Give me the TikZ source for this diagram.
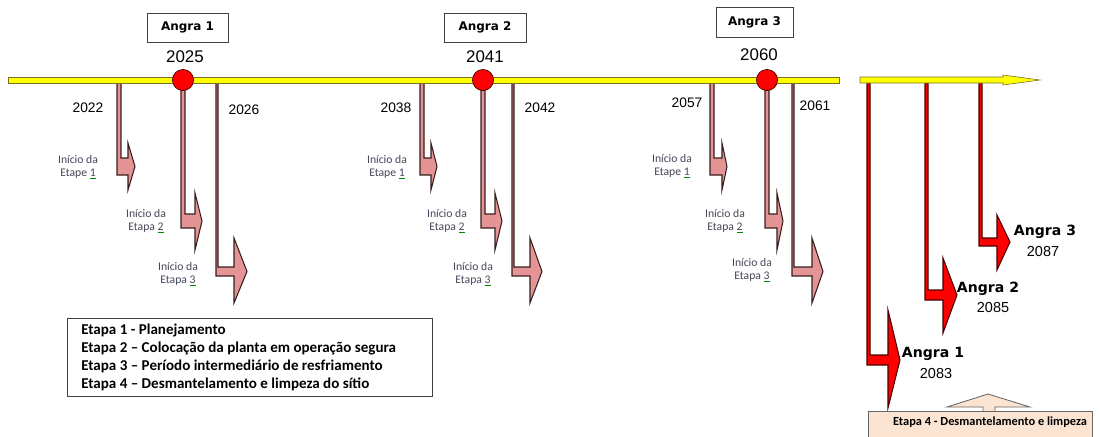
\documentclass[tikz,border=0pt]{standalone}
\usepackage{fontspec}
\setmainfont{Liberation Sans}
\newfontfamily\carl{Carlito}
\newfontfamily\dvs{DejaVu Sans}
\definecolor{pinkA}{RGB}{228,148,148}
\definecolor{brownA}{RGB}{55,30,30}
\definecolor{darkred}{RGB}{70,0,0}
\definecolor{barY}{RGB}{255,255,0}
\definecolor{barO}{RGB}{120,110,40}
\definecolor{peach}{RGB}{251,228,210}
\definecolor{lbl}{RGB}{70,70,90}
\newcommand\sq[1]{{\color{green!55!black}\underline{\color{lbl}#1}}}
\newcommand\bentarr[9]{%
  \pgfmathsetmacro\xr{#2+#3}\pgfmathsetmacro\ym{(#4+#5)/2}%
  \path[#1] (#2,83) -- (#2,#5) -- (#6,#5) -- (#6,#8) -- (#9,\ym) -- (#6,#7) -- (#6,#4) -- (\xr,#4) -- (\xr,83) -- cycle;}
\tikzset{
  pinkarrow/.style={fill=pinkA, draw=brownA, line width=0.75pt, line join=miter},
  redarrow/.style={fill=red, draw=darkred, line width=0.75pt, line join=miter},
  bar/.style={fill=barY, draw=barO, line width=0.4pt},
  dot/.style={circle, fill=red, draw=darkred, line width=0.5pt, minimum size=15pt, inner sep=0pt},
  namebox/.style={draw=black!75, line width=0.6pt, inner sep=0pt, font=\dvs\bfseries\fontsize{8.5}{10}\selectfont},
  bigyear/.style={font=\fontsize{12}{14}\selectfont, inner sep=0pt},
  year/.style={font=\fontsize{9.8}{12}\selectfont, inner sep=0pt},
  stage/.style={align=center, text=lbl, inner sep=0pt, font=\carl\fontsize{8.3}{9.4}\selectfont},
  legend/.style={anchor=west, inner sep=0pt, font=\carl\bfseries\fontsize{10.7}{12}\selectfont},
  rname/.style={font=\dvs\bfseries\fontsize{10}{12}\selectfont, inner sep=0pt},
  ryear/.style={font=\fontsize{10.3}{12}\selectfont, inner sep=0pt},
}
\begin{document}
\begin{tikzpicture}[x=0.025cm, y=-0.025cm]
\useasboundingbox (0,0) rectangle (1100,436);
% group 1
\bentarr{pinkarrow}{117}{4}{158}{175}{128}{143}{190}{135}
\bentarr{pinkarrow}{181}{4}{214}{228}{195}{193}{250}{202}
\bentarr{pinkarrow}{216}{2}{267}{276}{234}{238}{303}{247}
% group 2
\bentarr{pinkarrow}{420}{4}{158}{175}{431}{143}{190}{437}
\bentarr{pinkarrow}{481}{4}{214}{228}{495}{193}{250}{502}
\bentarr{pinkarrow}{512}{2}{267}{276}{530}{238}{303}{542}
% group 3
\bentarr{pinkarrow}{710}{4}{158}{175}{722}{143}{190}{727}
\bentarr{pinkarrow}{765}{4}{214}{228}{777}{193}{250}{783}
\bentarr{pinkarrow}{792}{2}{267}{276}{812}{238}{303}{823}
% right part
\bentarr{redarrow}{867}{3}{355}{365}{888}{310}{408}{900}
\bentarr{redarrow}{925}{3}{290}{300}{943}{258}{333}{957}
\bentarr{redarrow}{979}{3}{238}{246}{997}{215}{270}{1010}
% timeline bars
\path[bar] (8,77) rectangle (839,83);
\path[bar] (860,77) -- (1003,77) -- (1003,75) -- (1040,80) -- (1003,85) -- (1003,83) -- (860,83) -- cycle;
% circles
\node[dot] (c1) at (183,80) {};
\node[dot] (c2) at (483,80) {};
\node[dot] (c3) at (767,80) {};
% name boxes
\node[namebox, minimum width=81*0.025cm, minimum height=29*0.025cm] (b1) at (187.5,27.5) {Angra 1};
\node[namebox, minimum width=82*0.025cm, minimum height=29*0.025cm] (b2) at (485,27.5) {Angra 2};
\node[namebox, minimum width=77*0.025cm, minimum height=30*0.025cm] (b3) at (754.5,22) {Angra 3};
% years
\node[bigyear] (y2025) at (185,57) {2025};
\node[bigyear] (y2041) at (485,57) {2041};
\node[bigyear] (y2060) at (759,55) {2060};
\node[year] (y2022) at (88,108) {2022};
\node[year] (y2026) at (244,110) {2026};
\node[year] (y2038) at (396,108) {2038};
\node[year] (y2042) at (540,108) {2042};
\node[year] (y2057) at (687,103) {2057};
\node[year] (y2061) at (815,106) {2061};
% stage labels
\node[stage] (s11) at (78,167) {Início da\\Etape \sq{1}};
\node[stage] (s12) at (146,221) {Início da\\Etapa \sq{2}};
\node[stage] (s13) at (178,274) {Início da\\Etapa \sq{3}};
\node[stage] (s21) at (387,167) {Início da\\Etape \sq{1}};
\node[stage] (s22) at (447,221) {Início da\\Etapa \sq{2}};
\node[stage] (s23) at (473,274) {Início da\\Etapa \sq{3}};
\node[stage] (s31) at (672,166) {Início da\\Etape \sq{1}};
\node[stage] (s32) at (725,221) {Início da\\Etapa \sq{2}};
\node[stage] (s33) at (752,270) {Início da\\Etapa \sq{3}};
% legend
\draw[black!75, line width=0.6pt] (67,318) rectangle (432,396);
\node[legend] (l1) at (81,330) {Etapa 1 - Planejamento};
\node[legend] (l2) at (81,348) {Etapa 2 – Colocação da planta em operação segura};
\node[legend] (l3) at (81,366) {Etapa 3 – Período intermediário de resfriamento};
\node[legend] (l4) at (81,384) {Etapa 4 – Desmantelamento e limpeza do sítio};
% right labels
\node[rname] (r3) at (1045,232) {Angra 3};
\node[ryear] (r3y) at (1043,252) {2087};
\node[rname] (r2) at (988,289) {Angra 2};
\node[ryear] (r2y) at (993,308) {2085};
\node[rname] (r1) at (933,354) {Angra 1};
\node[ryear] (r1y) at (936,374) {2083};
% bottom box and up arrow
\path[fill=peach, draw=black!60, line width=0.6pt] (983,412) -- (983,407) -- (947,407) -- (988,394) -- (1030,407) -- (995,407) -- (995,412);
\path[fill=peach, draw=black!60, line width=0.6pt] (868,411) rectangle (1092,445);
\node[inner sep=0pt, font=\carl\bfseries\fontsize{8.8}{10}\selectfont] (e4) at (990,422) {Etapa 4 - Desmantelamento e limpeza};
\end{tikzpicture}
\end{document}
